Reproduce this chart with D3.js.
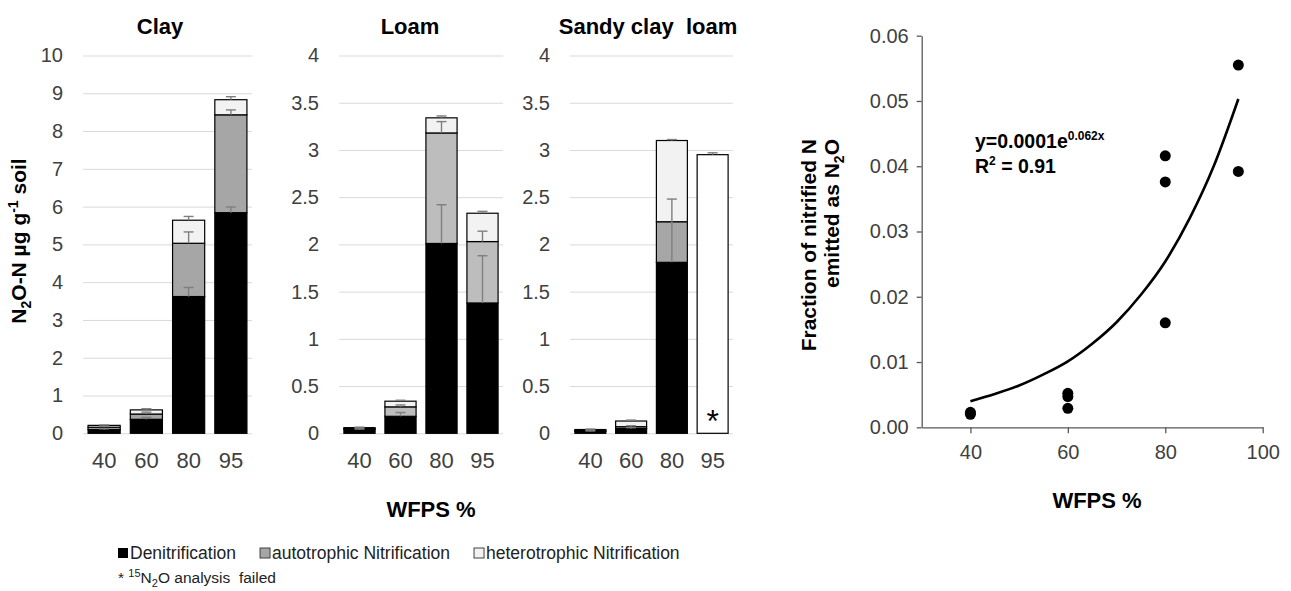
<!DOCTYPE html>
<html>
<head>
<meta charset="utf-8">
<script src="https://cdn.jsdelivr.net/npm/d3@7"></script>
<style>
    body { margin: 0; background: #fff; }
    svg { display: block; font-family: 'Liberation Sans', Arial, sans-serif; }
    text { white-space: pre; }
</style>
</head>
<body>
<svg width="1291" height="591"></svg>
<script>
// bar chart data (N2O-N ug/g soil), one value per WFPS level
var wfps = ['40', '60', '80', '95'];
var clayTicks = [0, 1, 2, 3, 4, 5, 6, 7, 8, 9, 10];
var loamTicks = [0, 0.5, 1, 1.5, 2, 2.5, 3, 3.5, 4];

var clayDen = [0.10, 0.37, 3.62, 5.84],  clayDenErr = [0.02, 0.05, 0.24, 0.15];
var clayAuto = [0.06, 0.14, 1.41, 2.59], clayAutoErr = [0.02, 0.05, 0.30, 0.13];
var clayHet = [0.05, 0.11, 0.61, 0.40],  clayHetErr = [0.01, 0.03, 0.10, 0.08];

var loamDen = [0.04, 0.18, 2.01, 1.38],  loamDenErr = [0.005, 0.04, 0.41, 0.50];
var loamAuto = [0.01, 0.10, 1.17, 0.65], loamAutoErr = [0.005, 0.02, 0.12, 0.11];
var loamHet = [0.01, 0.06, 0.16, 0.30],  loamHetErr = [0.005, 0.01, 0.02, 0.02];

var sandyDen = [0.02, 0.05, 1.81, 0],    sandyDenErr = [0.005, 0.01, 0.67, 0];
var sandyAuto = [0.01, 0.02, 0.43, 0],   sandyAutoErr = [0.005, 0.01, 0, 0];
var sandyHet = [0.01, 0.06, 0.86, 2.95], sandyHetErr = [0.005, 0.01, 0.01, 0.02];
var sandyFailed = ['95'];

// scatter data: fraction of nitrified N emitted as N2O
var pointX = [40, 40, 60, 60, 60, 80, 80, 80, 95, 95];
var pointY = [0.0023, 0.0020, 0.0052, 0.0047, 0.0029, 0.0416, 0.0376, 0.0160, 0.0555, 0.0392];
var trendX = [40, 45, 50, 55, 60, 65, 70, 75, 80, 85, 90, 95];
var trendY = [0.0040, 0.0051, 0.0064, 0.0081, 0.0101, 0.0128, 0.0161, 0.0203, 0.0254, 0.0320, 0.0401, 0.0503];
var scatterXTicks = [40, 60, 80, 100];
var scatterYTicks = [0, 0.01, 0.02, 0.03, 0.04, 0.05, 0.06];

var legendLabels = ['Denitrification', 'autotrophic Nitrification', 'heterotrophic Nitrification'];

(function (d3) {
    'use strict';

    var svg = d3.select('svg');
    var top = 55.5, bottom = 433.3;
    var tickColor = '#404040';

    var panels = [
        { title: 'Clay', titleX: 160, left: 83, width: 169, max: 10, ticks: clayTicks, autoFill: '#a6a6a6',
          parts: [clayDen, clayAuto, clayHet], errs: [clayDenErr, clayAutoErr, clayHetErr], failed: [] },
        { title: 'Loam', titleX: 410, left: 339, width: 164, max: 4, ticks: loamTicks, autoFill: '#bdbdbd',
          parts: [loamDen, loamAuto, loamHet], errs: [loamDenErr, loamAutoErr, loamHetErr], failed: [] },
        { title: 'Sandy clay  loam', titleX: 648, left: 570, width: 163, max: 4, ticks: loamTicks, autoFill: '#a6a6a6',
          parts: [sandyDen, sandyAuto, sandyHet], errs: [sandyDenErr, sandyAutoErr, sandyHetErr], failed: sandyFailed }
    ];

    panels.forEach(function (p) {
        var x = d3.scaleBand().domain(wfps).range([0, p.width]).paddingInner(0.24).paddingOuter(0.12),
            y = d3.scaleLinear().domain([0, p.max]).range([bottom - top, 0]);
        var fills = ['#000000', p.autoFill, '#f2f2f2'];

        var g = svg.append('g')
            .attr('transform', 'translate(' + p.left + ',' + top + ')');

        var yAxis = g.append('g')
            .call(d3.axisLeft(y).tickValues(p.ticks).tickSize(-p.width).tickPadding(20).tickFormat(function (d) { return String(d); }));
        yAxis.select('.domain').remove();
        yAxis.selectAll('line').attr('stroke', '#d9d9d9');
        yAxis.selectAll('text').attr('fill', tickColor).style('font-size', '20px');

        var xAxis = g.append('g')
            .attr('transform', 'translate(0,' + (bottom - top) + ')')
            .call(d3.axisBottom(x).tickSize(0).tickPadding(19));
        xAxis.select('.domain').remove();
        xAxis.selectAll('text').attr('fill', tickColor).style('font-size', '22px');

        // stacked segments
        var segs = [], errBars = [];
        wfps.forEach(function (w, i) {
            var base = 0;
            p.parts.forEach(function (arr, k) {
                var v = arr[i];
                if (v > 0) {
                    var fill = fills[k];
                    if (k === 2 && p.failed.indexOf(w) >= 0) fill = '#ffffff';
                    segs.push({ w: w, y0: base, y1: base + v, fill: fill });
                    if (p.errs[k][i] > 0) errBars.push({ w: w, y0: base + v, y1: base + v + p.errs[k][i] });
                }
                base += v;
            });
        });

        g.selectAll('.seg')
            .data(segs)
            .enter().append('rect')
            .attr('class', 'seg')
            .attr('x', function (d) { return x(d.w); })
            .attr('y', function (d) { return y(d.y1); })
            .attr('width', x.bandwidth())
            .attr('height', function (d) { return y(d.y0) - y(d.y1); })
            .attr('fill', function (d) { return d.fill; })
            .attr('stroke', '#000')
            .attr('stroke-width', 1.2);

        var eb = g.selectAll('.err')
            .data(errBars)
            .enter().append('g')
            .attr('class', 'err')
            .attr('stroke', '#7f7f7f')
            .attr('stroke-width', 1.4);
        eb.append('line')
            .attr('x1', function (d) { return x(d.w) + x.bandwidth() / 2; })
            .attr('x2', function (d) { return x(d.w) + x.bandwidth() / 2; })
            .attr('y1', function (d) { return y(d.y0); })
            .attr('y2', function (d) { return y(d.y1); });
        eb.append('line')
            .attr('x1', function (d) { return x(d.w) + x.bandwidth() / 2 - 5; })
            .attr('x2', function (d) { return x(d.w) + x.bandwidth() / 2 + 5; })
            .attr('y1', function (d) { return y(d.y1); })
            .attr('y2', function (d) { return y(d.y1); });

        // asterisk on failed bars
        p.failed.forEach(function (w) {
            g.append('text')
                .attr('x', x(w) + x.bandwidth() / 2)
                .attr('y', y(0) - 1)
                .attr('text-anchor', 'middle')
                .style('font-size', '32px')
                .text('*');
        });

        svg.append('text')
            .attr('x', p.titleX)
            .attr('y', 34)
            .attr('text-anchor', 'middle')
            .style('font-size', '22px')
            .style('font-weight', 'bold')
            .text(p.title);
    });

    // bar chart y label
    var yl = svg.append('text')
        .attr('transform', 'translate(26,241) rotate(-90)')
        .attr('text-anchor', 'middle')
        .style('font-size', '21px')
        .style('font-weight', 'bold');
    yl.append('tspan').text('N');
    yl.append('tspan').attr('dy', 5).style('font-size', '14px').text('2');
    yl.append('tspan').attr('dy', -5).text('O-N \u00b5g g');
    yl.append('tspan').attr('dy', -8).style('font-size', '14px').text('-1');
    yl.append('tspan').attr('dy', 8).text(' soil');

    svg.append('text')
        .attr('x', 431)
        .attr('y', 517)
        .attr('text-anchor', 'middle')
        .style('font-size', '22px')
        .style('font-weight', 'bold')
        .text('WFPS %');

    // legend
    var lx = 118;
    var legFills = ['#000000', '#a6a6a6', '#f2f2f2'];
    legendLabels.forEach(function (lab, i) {
        svg.append('rect')
            .attr('x', lx).attr('y', 548)
            .attr('width', 10).attr('height', 10)
            .attr('fill', legFills[i])
            .attr('stroke', i === 0 ? 'none' : '#404040');
        var t = svg.append('text')
            .attr('x', lx + 12).attr('y', 559)
            .attr('fill', '#222')
            .style('font-size', '17.5px')
            .text(lab);
        lx += 12 + t.node().getComputedTextLength() + 24;
    });
    var note = svg.append('text')
        .attr('x', 118).attr('y', 583)
        .attr('fill', '#222')
        .style('font-size', '15.5px');
    note.append('tspan').text('* ');
    note.append('tspan').attr('dy', -6).style('font-size', '11px').text('15');
    note.append('tspan').attr('dy', 6).text('N');
    note.append('tspan').attr('dy', 4).style('font-size', '11px').text('2');
    note.append('tspan').attr('dy', -4).text('O analysis  failed');

    // scatter plot
    var sx = d3.scaleLinear().domain([30, 100]).range([921.7, 1262.7]),
        sy = d3.scaleLinear().domain([0, 0.06]).range([427.3, 35.7]);

    var axColor = '#595959';
    var gx = svg.append('g')
        .attr('transform', 'translate(0,' + sy(0) + ')')
        .call(d3.axisBottom(sx).tickValues(scatterXTicks).tickSize(6).tickPadding(12).tickSizeOuter(0));
    gx.selectAll('line, path').attr('stroke', axColor).attr('stroke-width', 1.3);
    gx.selectAll('text').attr('fill', tickColor).style('font-size', '20px');

    var gy = svg.append('g')
        .attr('transform', 'translate(' + sx(30) + ',0)')
        .call(d3.axisLeft(sy).tickValues(scatterYTicks).tickSize(5).tickPadding(8).tickSizeOuter(0).tickFormat(d3.format('.2f')));
    gy.selectAll('line, path').attr('stroke', axColor).attr('stroke-width', 1.3);
    gy.selectAll('text').attr('fill', tickColor).style('font-size', '20px');

    var line = d3.line()
        .x(function (d, i) { return sx(trendX[i]); })
        .y(function (d) { return sy(d); })
        .curve(d3.curveMonotoneX);

    svg.append('path')
        .datum(trendY)
        .attr('d', line)
        .attr('fill', 'none')
        .attr('stroke', '#000')
        .attr('stroke-width', 2.6);

    svg.selectAll('.dot')
        .data(pointY)
        .enter().append('circle')
        .attr('class', 'dot')
        .attr('cx', function (d, i) { return sx(pointX[i]); })
        .attr('cy', function (d) { return sy(d); })
        .attr('r', 5.5)
        .attr('fill', '#000');

    var eq = svg.append('text')
        .attr('x', 975).attr('y', 148)
        .style('font-size', '19.5px')
        .style('font-weight', 'bold');
    eq.append('tspan').text('y=0.0001e');
    eq.append('tspan').attr('dy', -8).style('font-size', '12px').text('0.062x');
    var r2 = svg.append('text')
        .attr('x', 975).attr('y', 173)
        .style('font-size', '19.5px')
        .style('font-weight', 'bold');
    r2.append('tspan').text('R');
    r2.append('tspan').attr('dy', -8).style('font-size', '12px').text('2');
    r2.append('tspan').attr('dy', 8).text(' = 0.91');

    svg.append('text')
        .attr('transform', 'translate(816,139) rotate(-90)')
        .attr('text-anchor', 'end')
        .style('font-size', '21px')
        .style('font-weight', 'bold')
        .text('Fraction of nitrified N');
    var sl2 = svg.append('text')
        .attr('transform', 'translate(839,139) rotate(-90)')
        .attr('text-anchor', 'end')
        .style('font-size', '21px')
        .style('font-weight', 'bold');
    sl2.append('tspan').text('emitted as N');
    sl2.append('tspan').attr('dy', 5).style('font-size', '14px').text('2');
    sl2.append('tspan').attr('dy', -5).text('O');

    svg.append('text')
        .attr('x', 1097)
        .attr('y', 508)
        .attr('text-anchor', 'middle')
        .style('font-size', '22px')
        .style('font-weight', 'bold')
        .text('WFPS %');
})(window.d3);
</script>
</body>
</html>
